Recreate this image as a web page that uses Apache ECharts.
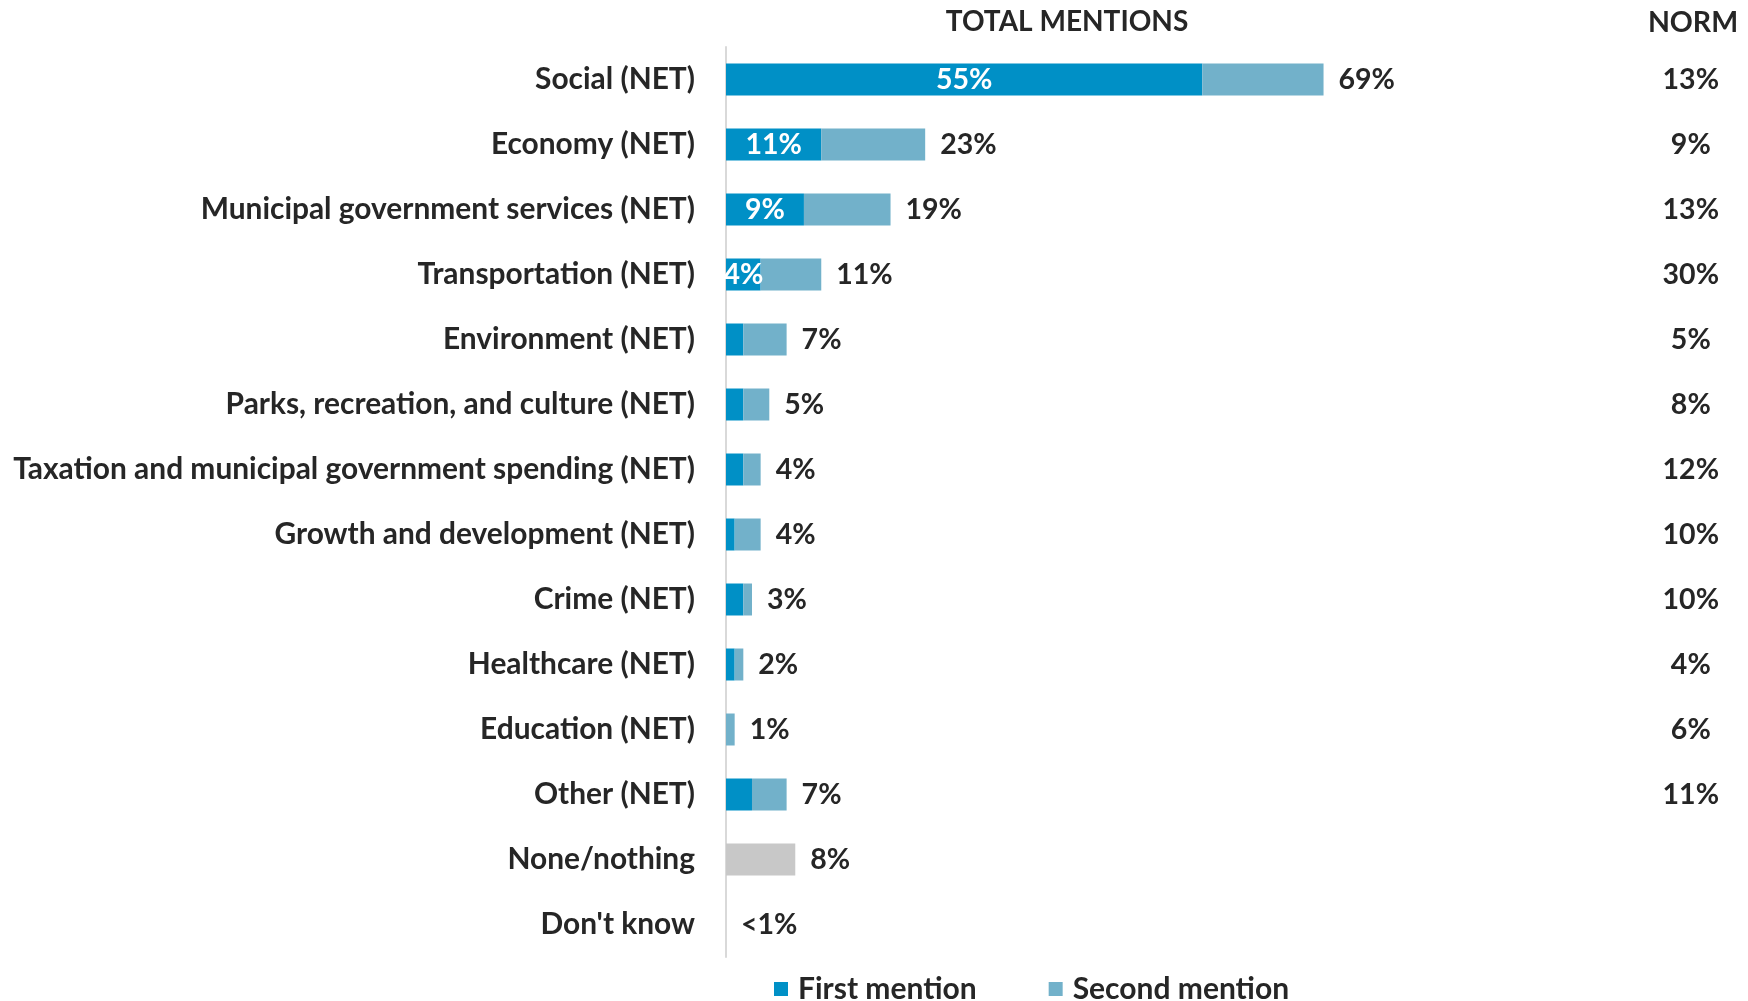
<!DOCTYPE html>
<html>
<head>
<meta charset="utf-8">
<script src="https://cdn.jsdelivr.net/npm/echarts@6/dist/echarts.min.js"></script>
<style>
html,body{margin:0;padding:0;background:#fff;}
#chart{width:1748px;height:1001px;}
</style>
</head>
<body>
<div id="chart"></div>
<script>
const categories = [
  'Social (NET)', 'Economy (NET)', 'Municipal government services (NET)', 'Transportation (NET)',
  'Environment (NET)', 'Parks, recreation, and culture (NET)', 'Taxation and municipal government spending (NET)',
  'Growth and development (NET)', 'Crime (NET)', 'Healthcare (NET)', 'Education (NET)', 'Other (NET)',
  'None/nothing', "Don't know"
];
const firstMention  = [55, 11, 9, 4, 2, 2, 2, 1, 2, 1, 0, 3, 0, 0];
const secondMention = [14, 12, 10, 7, 5, 3, 2, 3, 1, 1, 1, 4, 0, 0];
const noneValues    = [0, 0, 0, 0, 0, 0, 0, 0, 0, 0, 0, 0, 8, 0];
const firstLabels   = ['55%', '11%', '9%', '4%', '', '', '', '', '', '', '', '', '', ''];
const totalLabels   = ['69%', '23%', '19%', '11%', '7%', '5%', '4%', '4%', '3%', '2%', '1%', '7%', '8%', '<1%'];
const normLabels    = ['13%', '9%', '13%', '30%', '5%', '8%', '12%', '10%', '10%', '4%', '6%', '11%', '', ''];

const FONT = 'Lato';
const TXT = '#262626';
const chart = echarts.init(document.getElementById('chart'), null, {renderer: 'canvas'});
chart.setOption({
  animation: false,
  textStyle: {fontFamily: FONT},
  title: [
    {text: 'TOTAL MENTIONS', left: 1062, top: 3, textAlign: 'center',
     textStyle: {fontFamily: FONT, fontSize: 28, fontWeight: 'bold', color: TXT}},
    {text: 'NORM', left: 1688, top: 3, textAlign: 'center',
     textStyle: {fontFamily: FONT, fontSize: 28.5, fontWeight: 'bold', color: TXT}}
  ],
  legend: {
    data: ['First mention', 'Second mention'],
    left: 769, top: 969, itemWidth: 14, itemHeight: 14, itemGap: 72, icon: 'rect',
    textStyle: {fontFamily: FONT, fontSize: 30, fontWeight: 'bold', color: TXT, padding: [0, 0, 0, 5]}
  },
  grid: {left: 726, top: 47, width: 692.8, bottom: 44, containLabel: false},
  xAxis: {type: 'value', min: 0, max: 80, show: false},
  yAxis: [
    {type: 'category', data: categories, inverse: true,
     axisLine: {show: true, lineStyle: {color: '#D9D9D9', width: 2}},
     axisTick: {show: false},
     axisLabel: {fontFamily: FONT, fontSize: 29.9, fontWeight: 'bold', color: TXT, margin: 31}},
    {type: 'category', data: normLabels, inverse: true, position: 'right',
     axisLine: {show: false}, axisTick: {show: false},
     axisLabel: {fontFamily: FONT, fontSize: 28.5, fontWeight: 'bold', color: TXT, margin: 272, align: 'center'}}
  ],
  series: [
    {name: 'First mention', type: 'bar', stack: 't', data: firstMention, barWidth: 32,
     itemStyle: {color: '#0090C6'},
     label: {show: true, position: 'inside', color: '#fff', fontFamily: FONT, fontSize: 28.5, fontWeight: 'bold',
             formatter: p => firstLabels[p.dataIndex]}},
    {name: 'Second mention', type: 'bar', stack: 't', data: secondMention, barWidth: 32,
     itemStyle: {color: '#72B1CA'}},
    {name: 'None', type: 'bar', stack: 't', data: noneValues, barWidth: 32,
     itemStyle: {color: '#C8C8C8'}},
    {name: 'Total', type: 'bar', stack: 't', data: categories.map(() => 0), barWidth: 32,
     itemStyle: {color: 'transparent'},
     label: {show: true, position: 'right', distance: 15, color: TXT, fontFamily: FONT, fontSize: 28.5, fontWeight: 'bold',
             formatter: p => totalLabels[p.dataIndex]}}
  ]
});
</script>
</body>
</html>
